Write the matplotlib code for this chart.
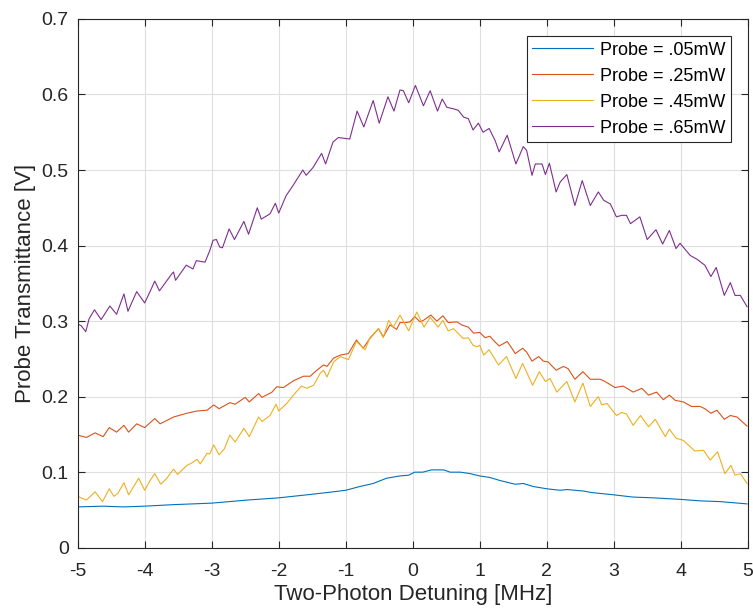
import matplotlib
matplotlib.use("Agg")
import matplotlib.pyplot as plt
import numpy as np

# Probe transmittance vs two-photon detuning
# Probe = .05mW
x_05 = np.array([-5.00, -4.62, -4.32, -4.00, -3.57, -3.00, -2.48, -2.00, -1.58, -1.28,
                 -1.00, -0.79, -0.59, -0.39, -0.19, -0.06, 0.03, 0.15, 0.28, 0.46,
                 0.56, 0.71, 0.86, 1.00, 1.15, 1.30, 1.53, 1.65, 1.80, 2.00,
                 2.20, 2.30, 2.55, 2.67, 3.00, 3.29, 3.59, 3.99, 4.29, 4.59, 4.99])
y_05 = np.array([0.054, 0.055, 0.054, 0.055, 0.057, 0.059, 0.063, 0.066, 0.070, 0.073,
                 0.076, 0.081, 0.085, 0.092, 0.095, 0.096, 0.100, 0.100, 0.103, 0.103,
                 0.100, 0.100, 0.098, 0.095, 0.093, 0.089, 0.084, 0.085, 0.081, 0.078,
                 0.076, 0.077, 0.075, 0.073, 0.070, 0.067, 0.066, 0.064, 0.062, 0.061, 0.058])

# Probe = .25mW
x_25 = np.array([-5.00, -4.87, -4.74, -4.62, -4.53, -4.42, -4.31, -4.24, -4.12, -4.00,
                 -3.85, -3.77, -3.57, -3.37, -3.22, -3.07, -2.97, -2.89, -2.73, -2.65,
                 -2.50, -2.44, -2.30, -2.25, -2.10, -2.03, -1.93, -1.78, -1.63, -1.53,
                 -1.43, -1.33, -1.28, -1.18, -1.08, -0.96, -0.84, -0.74, -0.64, -0.51,
                 -0.44, -0.34, -0.24, -0.19, -0.11, -0.04, 0.03, 0.11, 0.16, 0.27,
                 0.36, 0.45, 0.53, 0.66, 0.73, 0.83, 0.91, 1.00, 1.08, 1.15,
                 1.20, 1.29, 1.41, 1.48, 1.53, 1.64, 1.70, 1.78, 1.88, 1.95,
                 2.02, 2.14, 2.25, 2.32, 2.42, 2.54, 2.65, 2.80, 2.87, 3.02,
                 3.14, 3.29, 3.42, 3.52, 3.64, 3.74, 3.83, 3.92, 4.04, 4.16,
                 4.29, 4.36, 4.45, 4.54, 4.65, 4.74, 4.84, 4.99])
y_25 = np.array([0.149, 0.146, 0.152, 0.147, 0.159, 0.153, 0.162, 0.153, 0.164, 0.159,
                 0.171, 0.164, 0.173, 0.178, 0.181, 0.182, 0.189, 0.184, 0.192, 0.190,
                 0.199, 0.193, 0.204, 0.199, 0.206, 0.213, 0.212, 0.221, 0.227, 0.227,
                 0.235, 0.242, 0.240, 0.251, 0.255, 0.257, 0.275, 0.264, 0.277, 0.290,
                 0.279, 0.295, 0.289, 0.298, 0.298, 0.299, 0.306, 0.299, 0.301, 0.308,
                 0.300, 0.307, 0.298, 0.299, 0.295, 0.292, 0.284, 0.285, 0.278, 0.280,
                 0.275, 0.267, 0.273, 0.264, 0.257, 0.264, 0.259, 0.247, 0.253, 0.247,
                 0.246, 0.235, 0.240, 0.237, 0.223, 0.233, 0.223, 0.223, 0.220, 0.212,
                 0.214, 0.206, 0.211, 0.202, 0.206, 0.196, 0.202, 0.195, 0.193, 0.187,
                 0.187, 0.184, 0.178, 0.182, 0.170, 0.175, 0.173, 0.161])

# Probe = .45mW
x_45 = np.array([-5.00, -4.87, -4.74, -4.63, -4.53, -4.46, -4.40, -4.31, -4.24, -4.09,
                 -4.00, -3.92, -3.85, -3.76, -3.67, -3.57, -3.51, -3.37, -3.30, -3.22,
                 -3.17, -3.07, -3.03, -2.97, -2.89, -2.81, -2.73, -2.65, -2.52, -2.44,
                 -2.30, -2.25, -2.13, -2.04, -2.00, -1.88, -1.78, -1.66, -1.58, -1.48,
                 -1.38, -1.33, -1.28, -1.18, -1.08, -0.96, -0.84, -0.71, -0.64, -0.51,
                 -0.44, -0.36, -0.29, -0.19, -0.06, 0.06, 0.17, 0.26, 0.38, 0.45,
                 0.53, 0.61, 0.75, 0.83, 0.90, 0.96, 1.00, 1.06, 1.14, 1.28,
                 1.40, 1.54, 1.64, 1.79, 1.89, 1.98, 2.05, 2.15, 2.30, 2.42,
                 2.54, 2.65, 2.77, 2.82, 2.90, 3.04, 3.12, 3.19, 3.29, 3.40,
                 3.52, 3.62, 3.77, 3.83, 3.93, 4.04, 4.21, 4.34, 4.44, 4.55,
                 4.66, 4.75, 4.81, 4.89, 4.99])
y_45 = np.array([0.068, 0.063, 0.074, 0.061, 0.078, 0.068, 0.072, 0.086, 0.070, 0.092,
                 0.076, 0.089, 0.098, 0.084, 0.092, 0.104, 0.097, 0.109, 0.112, 0.117,
                 0.111, 0.125, 0.124, 0.136, 0.123, 0.131, 0.149, 0.140, 0.158, 0.147,
                 0.173, 0.167, 0.175, 0.190, 0.181, 0.191, 0.202, 0.214, 0.211, 0.215,
                 0.231, 0.235, 0.226, 0.246, 0.253, 0.249, 0.273, 0.262, 0.278, 0.290,
                 0.278, 0.301, 0.292, 0.308, 0.287, 0.312, 0.292, 0.305, 0.292, 0.301,
                 0.287, 0.290, 0.277, 0.278, 0.268, 0.266, 0.268, 0.255, 0.262, 0.242,
                 0.253, 0.224, 0.244, 0.215, 0.233, 0.220, 0.224, 0.206, 0.220, 0.193,
                 0.218, 0.187, 0.200, 0.189, 0.191, 0.175, 0.179, 0.177, 0.162, 0.175,
                 0.160, 0.170, 0.147, 0.157, 0.145, 0.142, 0.128, 0.129, 0.116, 0.127,
                 0.098, 0.109, 0.096, 0.098, 0.085])

# Probe = .65mW
x_65 = np.array([-5.00, -4.95, -4.88, -4.83, -4.75, -4.65, -4.52, -4.42, -4.31, -4.25,
                 -4.12, -4.00, -3.90, -3.85, -3.78, -3.60, -3.57, -3.54, -3.38, -3.28,
                 -3.23, -3.10, -3.03, -2.98, -2.93, -2.88, -2.84, -2.74, -2.66, -2.52,
                 -2.45, -2.32, -2.26, -2.13, -2.05, -2.00, -1.89, -1.79, -1.64, -1.59,
                 -1.49, -1.36, -1.30, -1.19, -1.11, -0.94, -0.83, -0.73, -0.59, -0.50,
                 -0.37, -0.28, -0.19, -0.14, -0.06, 0.04, 0.16, 0.26, 0.37, 0.44,
                 0.51, 0.61, 0.68, 0.76, 0.83, 0.90, 0.98, 1.05, 1.14, 1.23,
                 1.29, 1.41, 1.54, 1.65, 1.70, 1.78, 1.83, 1.93, 1.98, 2.04,
                 2.14, 2.20, 2.30, 2.42, 2.53, 2.65, 2.77, 2.85, 2.95, 3.04,
                 3.12, 3.19, 3.25, 3.39, 3.50, 3.63, 3.73, 3.83, 3.93, 3.99,
                 4.14, 4.24, 4.36, 4.45, 4.53, 4.65, 4.74, 4.81, 4.89, 4.99])
y_65 = np.array([0.296, 0.294, 0.286, 0.303, 0.315, 0.302, 0.320, 0.309, 0.336, 0.313,
                 0.339, 0.324, 0.343, 0.353, 0.340, 0.362, 0.365, 0.354, 0.374, 0.369,
                 0.380, 0.378, 0.393, 0.407, 0.408, 0.398, 0.397, 0.422, 0.408, 0.432,
                 0.415, 0.450, 0.435, 0.442, 0.456, 0.443, 0.466, 0.479, 0.500, 0.493,
                 0.503, 0.522, 0.508, 0.537, 0.543, 0.541, 0.578, 0.557, 0.592, 0.562,
                 0.597, 0.578, 0.606, 0.605, 0.589, 0.612, 0.585, 0.605, 0.578, 0.594,
                 0.583, 0.581, 0.579, 0.570, 0.568, 0.553, 0.562, 0.550, 0.555, 0.539,
                 0.524, 0.546, 0.508, 0.531, 0.526, 0.493, 0.508, 0.508, 0.494, 0.509,
                 0.471, 0.484, 0.494, 0.453, 0.486, 0.453, 0.471, 0.460, 0.455, 0.438,
                 0.440, 0.440, 0.429, 0.438, 0.408, 0.421, 0.402, 0.420, 0.396, 0.403,
                 0.387, 0.382, 0.374, 0.359, 0.371, 0.334, 0.351, 0.334, 0.334, 0.319])

labels = ['Probe = .05mW', 'Probe = .25mW', 'Probe = .45mW', 'Probe = .65mW']
colors = ['#0072BD', '#D95319', '#EDB120', '#7E2F8E']
xticks = np.arange(-5, 6, 1)
yticks = np.arange(0, 0.71, 0.1)

plt.rcParams['font.family'] = ['Liberation Sans', 'DejaVu Sans']
plt.rcParams['axes.unicode_minus'] = False

fig = plt.figure(figsize=(7.53, 6.11), dpi=100)
ax = fig.add_axes([0.1032, 0.1036, 0.8898, 0.8654])

series = [(x_05, y_05), (x_25, y_25), (x_45, y_45), (x_65, y_65)]
for (xs, ys), lab, col in zip(series, labels, colors):
    ax.plot(xs, ys, color=col, linewidth=0.8, label=lab)

ax.set_xlim(-5, 5)
ax.set_ylim(0, 0.7)
ax.set_xticks(xticks)
ax.set_xticklabels([str(int(t)) for t in xticks])
ax.set_yticks(yticks)
ax.set_yticklabels(['0'] + [f'{t:.1f}' for t in yticks[1:]])

# MATLAB-ish box: ticks inside on all four sides, light grid
ax.grid(True, color='#dfdfdf', linewidth=0.8)
ax.set_axisbelow(True)
ax.tick_params(direction='in', top=True, right=True, length=5, width=0.8,
               labelsize=14, colors='#262626')
ax.tick_params(axis='x', pad=11)
ax.tick_params(axis='y', pad=6.5)
for sp in ax.spines.values():
    sp.set_color('#262626')
    sp.set_linewidth(0.8)

ax.set_xlabel('Two-Photon Detuning [MHz]', fontsize=16, color='#262626', labelpad=3)
ax.set_ylabel('Probe Transmittance [V]', fontsize=16, color='#262626', labelpad=4)

leg = ax.legend(loc='upper right', fontsize=13, frameon=True, fancybox=False,
                edgecolor='#262626', framealpha=1, handlelength=3.4,
                borderaxespad=0.95, borderpad=0.3, labelspacing=0.5,
                handletextpad=0.35)
leg.get_frame().set_linewidth(0.8)

plt.savefig('out.png', dpi=100)
plt.close()
